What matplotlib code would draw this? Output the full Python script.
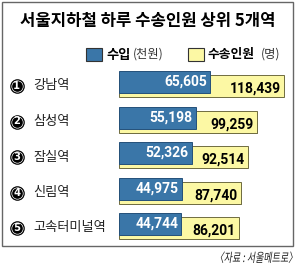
import matplotlib
matplotlib.use("Agg")
import matplotlib.pyplot as plt
from matplotlib.patches import Rectangle, PathPatch
from matplotlib.textpath import TextPath
from matplotlib.font_manager import FontProperties
from matplotlib.transforms import Affine2D, ScaledTranslation

plt.rcParams["font.family"] = ["Noto Sans CJK KR", "DejaVu Sans"]

# data
stations = ["강남역", "삼성역", "잠실역", "신림역", "고속터미널역"]
ranks = ["1", "2", "3", "4", "5"]
revenue = [65605, 55198, 52326, 44975, 44744]          # 수입 (천원)
passengers = [118439, 99259, 92514, 87740, 86201]      # 수송인원 (명)

title = "서울지하철 하루 수송인원 상위 5개역"
source = "〈자료 : 서울메트로〉"

BLUE = "#3a76a8"
YELLOW = "#fcf8a4"
W, H = 295, 270

fig = plt.figure(figsize=(W / 100, H / 100), dpi=100)

# overlay in pixel units for frame, title, legend
deco = fig.add_axes([0, 0, 1, 1])
deco.set_xlim(0, W)
deco.set_ylim(H, 0)
deco.axis("off")

deco.add_patch(Rectangle((1.5, 1.5), 291, 244.5, fill=False, ec="#666666", lw=1))
deco.text(147.5, 21, title, ha="center", va="center", fontsize=12, fontweight="bold")

deco.add_patch(Rectangle((86, 48), 16, 13, fc=BLUE, ec="#333333", lw=0.8))
deco.text(106, 54.5, "수입", ha="left", va="center", fontsize=9.5, fontweight="bold")
deco.text(133, 54.5, "(천원)", ha="left", va="center", fontsize=8.8, color="#333333")
deco.add_patch(Rectangle((188, 48), 16, 13, fc=YELLOW, ec="#333333", lw=0.8))
deco.text(208, 54.5, "수송인원", ha="left", va="center", fontsize=9.2, fontweight="bold")
deco.text(261, 54.5, "(명)", ha="left", va="center", fontsize=8.8, color="#333333")

# source line, slanted and narrowed
tp = TextPath((0, 0), source, size=12.5, prop=FontProperties(family="Noto Sans CJK KR"))
ext = tp.get_extents()
sx = 0.72
tr = Affine2D().skew_deg(12, 0).scale(sx, -1).translate(292 - ext.x1 * sx, 262)
deco.add_patch(PathPatch(tr.transform_path(tp), fc="#222222", ec="none", lw=0))

# bars
ax = fig.add_axes([119 / W, 1 - (64.25 + 35.5 * 5) / H, 171 / W, 35.5 * 5 / H])
ax.set_xlim(0, 123000)
ax.set_ylim(4.5, -0.5)
ax.axis("off")

pos = list(range(len(stations)))
bh = 22 / 35.5
off = 4 / 35.5
ypos = [p + off for p in pos]

ax.barh([y + 0.04 for y in ypos], passengers, height=bh, color="#9a9a9a",
        left=500, zorder=1)
ax.barh(ypos, passengers, height=bh, color=YELLOW, edgecolor="#6f6c40", lw=0.7, zorder=2)
ax.barh(pos, revenue, height=bh, color=BLUE, edgecolor="#24507a", lw=0.7, zorder=3)

num_font = ["Roboto", "DejaVu Sans"]
for p, r, v in zip(pos, revenue, passengers):
    ax.annotate(f"{r:,}", xy=(r, p), xytext=(-3, 0), textcoords="offset pixels",
                ha="right", va="center", color="white", fontsize=10,
                fontweight="bold", family=num_font, zorder=4)
    ax.annotate(f"{v:,}", xy=(v, p + off + 3 / 35.5), xytext=(-3, 0),
                textcoords="offset pixels", ha="right", va="center", color="black",
                fontsize=10, fontweight="bold", family=num_font, zorder=4)

# rank badges and station names
badge = ax.get_yaxis_transform() + ScaledTranslation(-102.3 / 100, 0, fig.dpi_scale_trans)
ax.plot([0] * len(ypos), ypos, "o", ms=10.5, mfc="black", mec="none", transform=badge,
        clip_on=False)
ax.plot([0] * len(ypos), ypos, "o", ms=8.7, mfc="white", mec="none", transform=badge,
        clip_on=False)
ax.plot([0] * len(ypos), ypos, "o", ms=7.7, mfc="black", mec="none", transform=badge,
        clip_on=False)
for y, rk, name in zip(ypos, ranks, stations):
    ax.text(0, y, rk, transform=badge, ha="center", va="center", color="white",
            fontsize=7.2, fontweight="bold", family=["DejaVu Sans"])
    ax.annotate(name, xy=(0, y), xycoords=("axes fraction", "data"), xytext=(-86, 0),
                textcoords="offset pixels", ha="left", va="center", fontsize=9.5,
                color="#222222")

fig.savefig("out.png", dpi=100)
